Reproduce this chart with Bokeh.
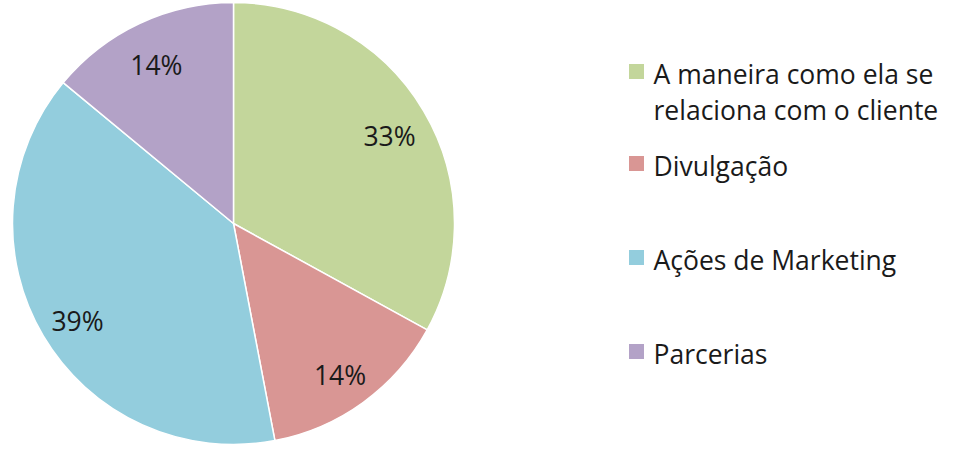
import math
from bokeh.plotting import figure
from bokeh.models import Range1d, ColumnDataSource
from bokeh.core.properties import value
from bokeh.embed import file_html
from bokeh.resources import INLINE

categories = ["A maneira como ela se\nrelaciona com o cliente", "Divulgação", "Ações de Marketing", "Parcerias"]
values = [33, 14, 39, 14]
labels = ["33%", "14%", "39%", "14%"]
colors = ["#C3D69B", "#D99694", "#93CDDD", "#B3A2C7"]

W, H = 949, 445
FONT = "Open Sans"
FS = "26.5px"
p = figure(width=W, height=H, output_backend="svg", toolbar_location=None,
           x_range=Range1d(0, W), y_range=Range1d(0, H), min_border=0)
p.axis.visible = False
p.grid.visible = False
p.outline_line_color = None
p.background_fill_color = "white"

cx, cy, R = 233, 222, 221
total = sum(values)
starts, ends, lx, ly = [], [], [], []
cum = 0
for v in values:
    a0 = math.pi / 2 - 2 * math.pi * cum / total
    cum += v
    a1 = math.pi / 2 - 2 * math.pi * cum / total
    starts.append(a1)
    ends.append(a0)
    mid = (a0 + a1) / 2
    lx.append(cx + 0.82 * R * math.cos(mid))
    ly.append(cy + 0.82 * R * math.sin(mid))

src = ColumnDataSource(dict(start=starts, end=ends, color=colors, lx=lx, ly=ly, lab=labels))
p.wedge(x=cx, y=cy, radius=R, radius_units="screen", start_angle="start", end_angle="end",
        fill_color="color", line_color="white", line_width=1.5, source=src)
p.text(x="lx", y="ly", text="lab", source=src, text_align="center", text_baseline="middle",
       text_font=value(FONT), text_font_size=FS, text_color="#1a1a1a", y_offset=5)

# legend
sq_x, tx = 636, 653
LINE = 36
y = 372
for cat, col in zip(categories, colors):
    lines = cat.split("\n")
    p.scatter(x=[sq_x], y=[y + 2], marker="square", size=15, fill_color=col, line_color=None)
    for i, ln in enumerate(lines):
        p.text(x=[tx], y=[y - i * LINE], text=[ln], text_align="left", text_baseline="middle",
               text_font=value(FONT), text_font_size=FS, text_color="#1a1a1a")
    y -= 94 if len(lines) == 1 else 92

open("out.html", "w").write(file_html(p, INLINE))
